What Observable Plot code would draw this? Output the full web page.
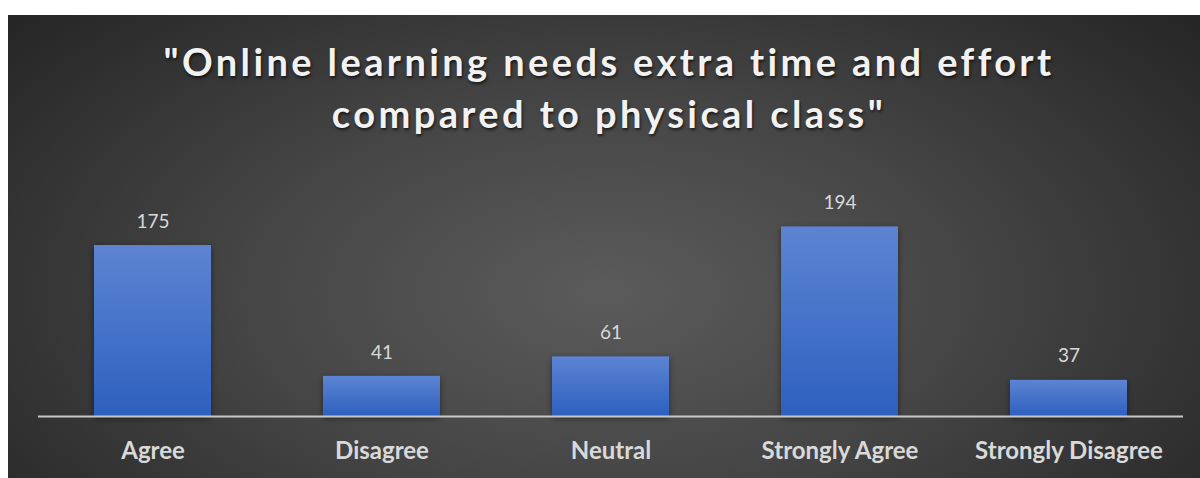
<!DOCTYPE html>
<html>
<head>
<meta charset="utf-8">
<script src="https://cdn.jsdelivr.net/npm/d3@7"></script>
<script src="https://cdn.jsdelivr.net/npm/@observablehq/plot@0.6"></script>
<style>
  html, body { margin: 0; padding: 0; background: #ffffff; }
  #panel {
    position: absolute; left: 8px; top: 15px; width: 1192px; height: 463px;
    background: radial-gradient(ellipse 65% 90% at 50% 60%, #5b5b5b 0%, #464646 45%, #262626 100%);
    overflow: hidden;
  }
  #title {
    position: absolute; left: 0; top: 20px; width: 1202px; text-align: center;
    font-family: Lato, "Open Sans", sans-serif; font-weight: 700; font-size: 38px;
    line-height: 52px; letter-spacing: 3.4px; color: #f2f2f2;
    text-shadow: 1px 2px 3px rgba(0,0,0,0.65);
  }
  #chart { position: absolute; left: 0; top: 0; }
</style>
</head>
<body>
<div id="panel">
  <div id="chart"></div>
  <div id="title">"Online learning needs extra time and effort<br>compared to physical class"</div>
</div>
<script>
// Survey responses per answer
const categories = ["Agree", "Disagree", "Neutral", "Strongly Agree", "Strongly Disagree"];
const counts = [175, 41, 61, 194, 37];

const rows = categories.map((c, i) => ({category: c, count: counts[i]}));

const chart = Plot.plot({
  width: 1192,
  height: 463,
  marginLeft: 30,
  marginRight: 17,
  marginTop: 205.6,
  marginBottom: 62,
  style: {background: "transparent", overflow: "visible"},
  x: {domain: categories, paddingInner: 0.49, paddingOuter: 0.245, label: null},
  y: {domain: [0, 200], axis: null},
  marks: [
    Plot.barY(rows, {x: "category", y: "count", fill: "url(#barGrad)",
      render: (i, s, v, d, c, next) => {
        const g = next(i, s, v, d, c);
        g.setAttribute("filter", "url(#barShadow)");
        return g;
      }}),
    Plot.ruleY([0], {stroke: "#c8c8c8", strokeWidth: 2}),
    Plot.text(rows, {x: "category", y: "count", text: d => String(d.count), dy: -24,
      lineAnchor: "middle", fill: "#d9d9d9", fontSize: 19, fontFamily: "Lato, sans-serif"}),
    Plot.axisX({tickSize: 0, tickPadding: 25, fontSize: 24, fontWeight: "bold",
      fontFamily: "Lato, sans-serif", fill: "#d9d9d9", label: null,
      style: {letterSpacing: "0.9px"}})
  ]
});

// gradient and soft shadow for bars
const defs = d3.create("svg:defs");
const grad = defs.append("linearGradient").attr("id", "barGrad")
  .attr("x1", 0).attr("y1", 0).attr("x2", 0).attr("y2", 1);
grad.append("stop").attr("offset", "0%").attr("stop-color", "#5d84d2");
grad.append("stop").attr("offset", "100%").attr("stop-color", "#2d60bf");
const f = defs.append("filter").attr("id", "barShadow")
  .attr("x", "-20%").attr("y", "-20%").attr("width", "140%").attr("height", "140%");
f.append("feDropShadow").attr("dx", 0).attr("dy", 2).attr("stdDeviation", 3)
  .attr("flood-color", "#000").attr("flood-opacity", 0.45);
chart.insertBefore(defs.node(), chart.firstChild);

document.getElementById("chart").appendChild(chart);
</script>
</body>
</html>
